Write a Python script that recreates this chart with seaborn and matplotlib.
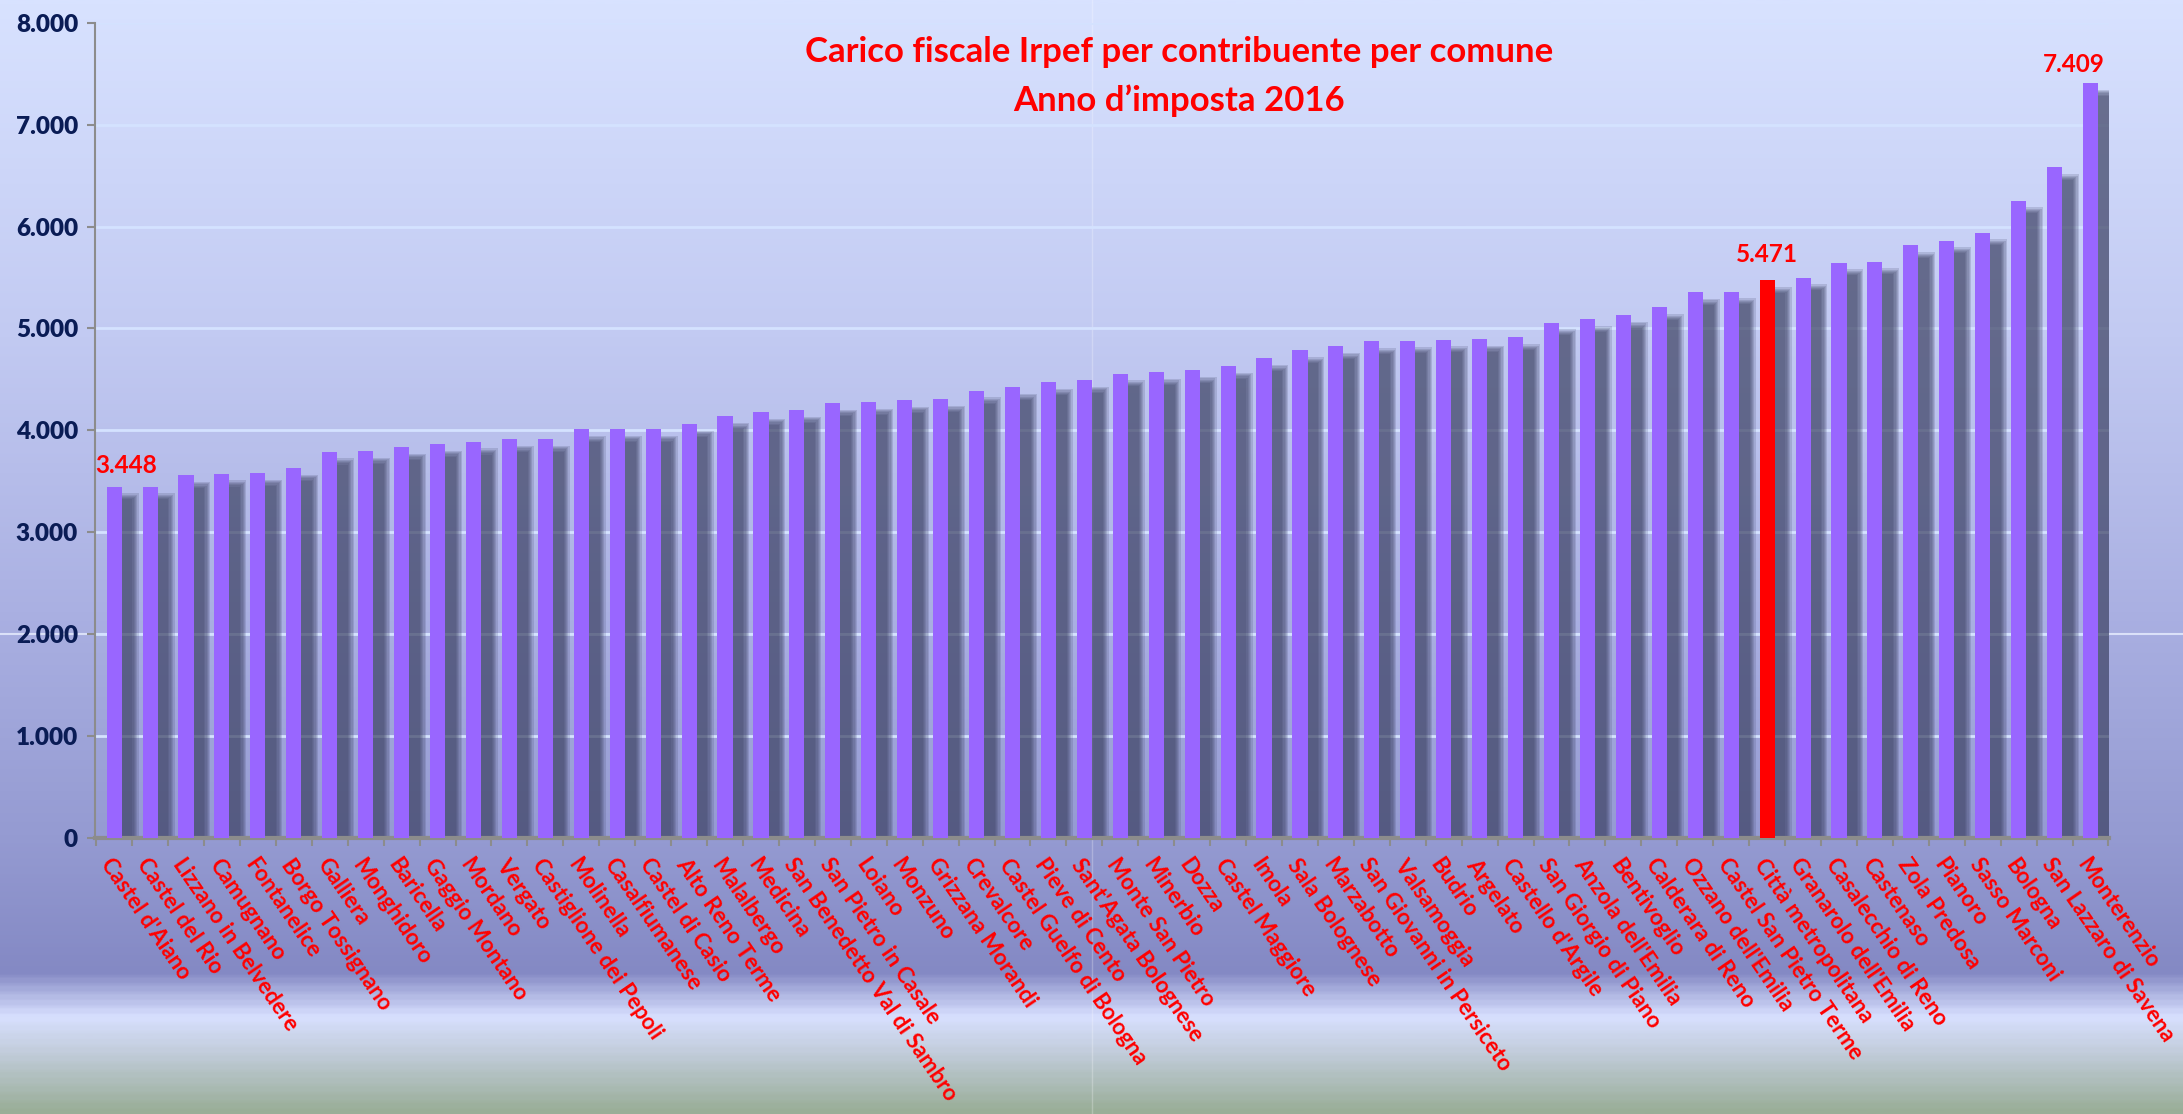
import numpy as np
import pandas as pd
import seaborn as sns
import matplotlib.pyplot as plt
from matplotlib.colors import LinearSegmentedColormap
from matplotlib.lines import Line2D
from matplotlib.ticker import FuncFormatter, FixedLocator

comuni = ["Castel d'Aiano", "Castel del Rio", "Lizzano in Belvedere", "Camugnano", "Fontanelice",
          "Borgo Tossignano", "Galliera", "Monghidoro", "Baricella", "Gaggio Montano", "Mordano",
          "Vergato", "Castiglione dei Pepoli", "Molinella", "Casalfiumanese", "Castel di Casio",
          "Alto Reno Terme", "Malalbergo", "Medicina", "San Benedetto Val di Sambro",
          "San Pietro in Casale", "Loiano", "Monzuno", "Grizzana Morandi", "Crevalcore",
          "Castel Guelfo di Bologna", "Pieve di Cento", "Sant'Agata Bolognese", "Monte San Pietro",
          "Minerbio", "Dozza", "Castel Maggiore", "Imola", "Sala Bolognese", "Marzabotto",
          "San Giovanni in Persiceto", "Valsamoggia", "Budrio", "Argelato", "Castello d'Argile",
          "San Giorgio di Piano", "Anzola dell'Emilia", "Bentivoglio", "Calderara di Reno",
          "Ozzano dell'Emilia", "Castel San Pietro Terme", "Città metropolitana",
          "Granarolo dell'Emilia", "Casalecchio di Reno", "Castenaso", "Zola Predosa", "Pianoro",
          "Sasso Marconi", "Bologna", "San Lazzaro di Savena", "Monterenzio"]

carico = [3448, 3448, 3561, 3574, 3582, 3631, 3790, 3798, 3838, 3866, 3888,
          3914, 3915, 4012, 4013, 4014, 4062, 4138, 4180, 4201,
          4270, 4278, 4298, 4306, 4388, 4424, 4472, 4494, 4556,
          4570, 4590, 4632, 4708, 4784, 4825, 4872, 4880, 4890, 4898, 4912,
          5058, 5088, 5130, 5206, 5354, 5362, 5471,
          5498, 5646, 5656, 5814, 5862, 5940, 6254, 6580, 7409]

evidenziato = "Città metropolitana"
con_etichetta = ["Castel d'Aiano", "Città metropolitana", "Monterenzio"]

titolo = "Carico fiscale Irpef per contribuente per comune"
sottotitolo = "Anno d\u2019imposta 2016"

df = pd.DataFrame({"comune": comuni, "carico": carico})
colori = {c: ("#ff0000" if c == evidenziato else "#9966ff") for c in comuni}

fig = plt.figure(figsize=(21.83, 11.14), dpi=100)

# sfondo sfumato
bg = fig.add_axes([0, 0, 1, 1], zorder=-10)
sfondo = LinearSegmentedColormap.from_list("sfondo", [
    (0.00, "#d8e2ff"), (0.30, "#c2caf2"), (0.55, "#aab0e2"), (0.75, "#959bd2"),
    (0.875, "#8489c4"), (0.915, "#d8e0ff"), (0.95, "#c0cbd8"), (1.00, "#9aae98")])
bg.imshow(np.linspace(0, 1, 400).reshape(-1, 1), aspect="auto", cmap=sfondo, extent=[0, 1, 0, 1])
bg.axis("off")
fig.add_artist(Line2D([0, 1], [1 - 634 / 1114] * 2, transform=fig.transFigure,
                      color="#e8eeff", lw=1.5, alpha=0.8, zorder=-5))
fig.add_artist(Line2D([1092 / 2183] * 2, [0, 1], transform=fig.transFigure,
                      color="white", lw=1, alpha=0.25, zorder=-5))

ax = fig.add_axes([0.0434, 0.2478, 0.9228, 0.7318])
ax.set_facecolor("none")

# ombre sfumate delle barre
x = np.arange(len(comuni))
v = np.array(carico)
for extra in [0.28, 0.2, 0.13, 0.07, 0.0, -0.06]:
    ax.bar(x + 0.33, v - 115 + extra * 176, width=0.42 + extra, color="#3c4162", alpha=0.18,
           linewidth=0, zorder=2)

sns.barplot(data=df, x="comune", y="carico", hue="comune", palette=colori, legend=False,
            width=0.42, saturation=1, linewidth=0, ax=ax, zorder=3)

ax.set_xlim(-0.54, 55.52)
ax.set_ylim(0, 8000)
ax.set_xlabel("")
ax.set_ylabel("")

ax.yaxis.grid(True, color="#d4e2ff", linewidth=2)
ax.xaxis.grid(False)
ax.set_axisbelow(True)

for s in ["top", "right"]:
    ax.spines[s].set_visible(False)
ax.spines["left"].set_color("#8c8c8c")
ax.spines["left"].set_linewidth(1.5)
ax.spines["bottom"].set_color("#8c8c8c")
ax.spines["bottom"].set_linewidth(3)

ax.set_yticks(range(0, 8001, 1000))
ax.yaxis.set_major_formatter(FuncFormatter(lambda val, p: f"{int(val):,}".replace(",", ".")))
ax.tick_params(axis="y", direction="out", length=6, width=1.5, color="#8c8c8c",
               labelsize=17.5, labelcolor="#0a1c55", pad=6)
for lab in ax.get_yticklabels():
    lab.set_fontfamily("Lato")
    lab.set_fontweight("heavy")

ax.set_xticks(x)
ax.set_xticklabels(comuni, rotation=-55.5, ha="left", va="top", rotation_mode="anchor",
                   color="#ff0000", fontsize=16, fontweight="bold", family="Lato")
ax.tick_params(axis="x", which="major", length=0, pad=12)
ax.xaxis.set_minor_locator(FixedLocator(np.arange(-0.5, len(comuni), 1)))
ax.tick_params(axis="x", which="minor", direction="out", length=6, width=1.5, color="#8c8c8c")

# etichette dei valori
spost = {"Castel d'Aiano": (0.33, 10), "Città metropolitana": (0.0, 13), "Monterenzio": (-0.47, 8)}
for c in con_etichetta:
    i = comuni.index(c)
    dx, dy = spost[c]
    ax.annotate(f"{carico[i]:,}".replace(",", "."), (i + dx, carico[i]), xytext=(0, dy),
                textcoords="offset points", ha="center", va="baseline", color="#ff0000",
                fontsize=17.5, fontweight="bold", family="Lato", zorder=5)

fig.text(0.540, 0.953, titolo, ha="center", va="center", color="#ff0000",
         fontsize=25, fontweight="bold", family="Lato")
fig.text(0.540, 0.910, sottotitolo, ha="center", va="center", color="#ff0000",
         fontsize=25, fontweight="bold", family="Lato")

fig.savefig("out.png", dpi=100)
